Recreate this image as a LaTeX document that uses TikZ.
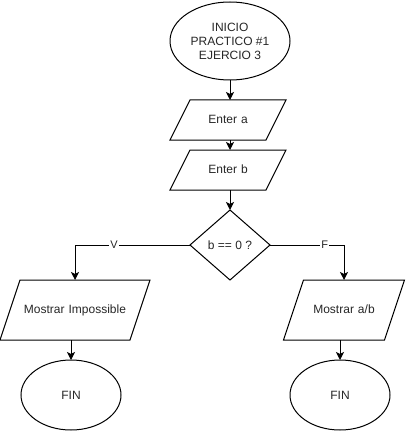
\documentclass[tikz,border=0pt]{standalone}
\usepackage{fontspec}
\setmainfont{Liberation Sans}
\usetikzlibrary{shapes.geometric,arrows.meta}

\begin{document}
\begin{tikzpicture}[
    x=0.75pt, y=-0.75pt,
    line width=0.75pt,
    font=\fontsize{9pt}{10.5pt}\selectfont,
    base/.style={draw=black, text=black!85, outer sep=0pt, inner sep=1pt, align=center},
    terminal/.style={base, ellipse},
    datos/.style={base, trapezium, inner xsep=0pt, text height=7pt, text depth=2pt},
    entrada/.style={datos, inner ysep=10.5pt, trapezium left angle=63.43, trapezium right angle=116.57},
    salida/.style={datos, inner ysep=18pt, trapezium left angle=71.57, trapezium right angle=108.43},
    decision/.style={base, diamond, inner sep=0pt, minimum width=60pt, minimum height=52.5pt},
    flecha/.style={-{Stealth[length=6pt, width=6pt, inset=1.5pt]}},
    etiqueta/.style={fill=white, text=black!85, inner sep=1pt, font=\fontsize{8.25pt}{9pt}\selectfont}
]

  % Page size
  \useasboundingbox (0,0) rectangle (405,431);

  % Define variables for the columns
  \def\colMid{230}      % Middle column
  \def\colLeft{75}      % Left branch
  \def\colRight{344}    % Right branch

  % Start and data input
  \node[terminal, minimum width=90pt, minimum height=58.5pt] (inicio) at (\colMid,41) {INICIO\\PRACTICO \#1\\EJERCIO 3};
  \node[entrada, text width=57pt] (entA) at (228,120) {Enter a};
  \node[entrada, text width=57pt] (entB) at (228,170) {Enter b};

  % Decision
  \node[decision] (cond) at (\colMid,245) {b == 0 ?};

  % Outputs
  \node[salida, text width=82.5pt] (mostI) at (\colLeft,310) {Mostrar Impossible};
  \node[salida, text width=60.75pt] (mostD) at (\colRight,310) {Mostrar a/b};

  % End
  \node[terminal, minimum width=75pt, minimum height=52.5pt] (fin1) at (71,395) {FIN};
  \node[terminal, minimum width=75pt, minimum height=52.5pt] (fin2) at (340,395) {FIN};

  % Connectors
  \draw[flecha] (inicio) -- (inicio.south |- entA.north);
  \draw[flecha] (entA.south -| inicio.south) -- (entB.north -| inicio.south);
  \draw[flecha] (entB.south -| cond.north) -- (cond.north);
  \draw[flecha] (cond.west) -| node[etiqueta, pos=0.33] {V} (mostI.north);
  \draw[flecha] (cond.east) -| node[etiqueta, pos=0.37] {F} (mostD.north);
  \draw[flecha] (fin1.north |- mostI.south) -- (fin1.north);
  \draw[flecha] (fin2.north |- mostD.south) -- (fin2.north);

\end{tikzpicture}
\end{document}
